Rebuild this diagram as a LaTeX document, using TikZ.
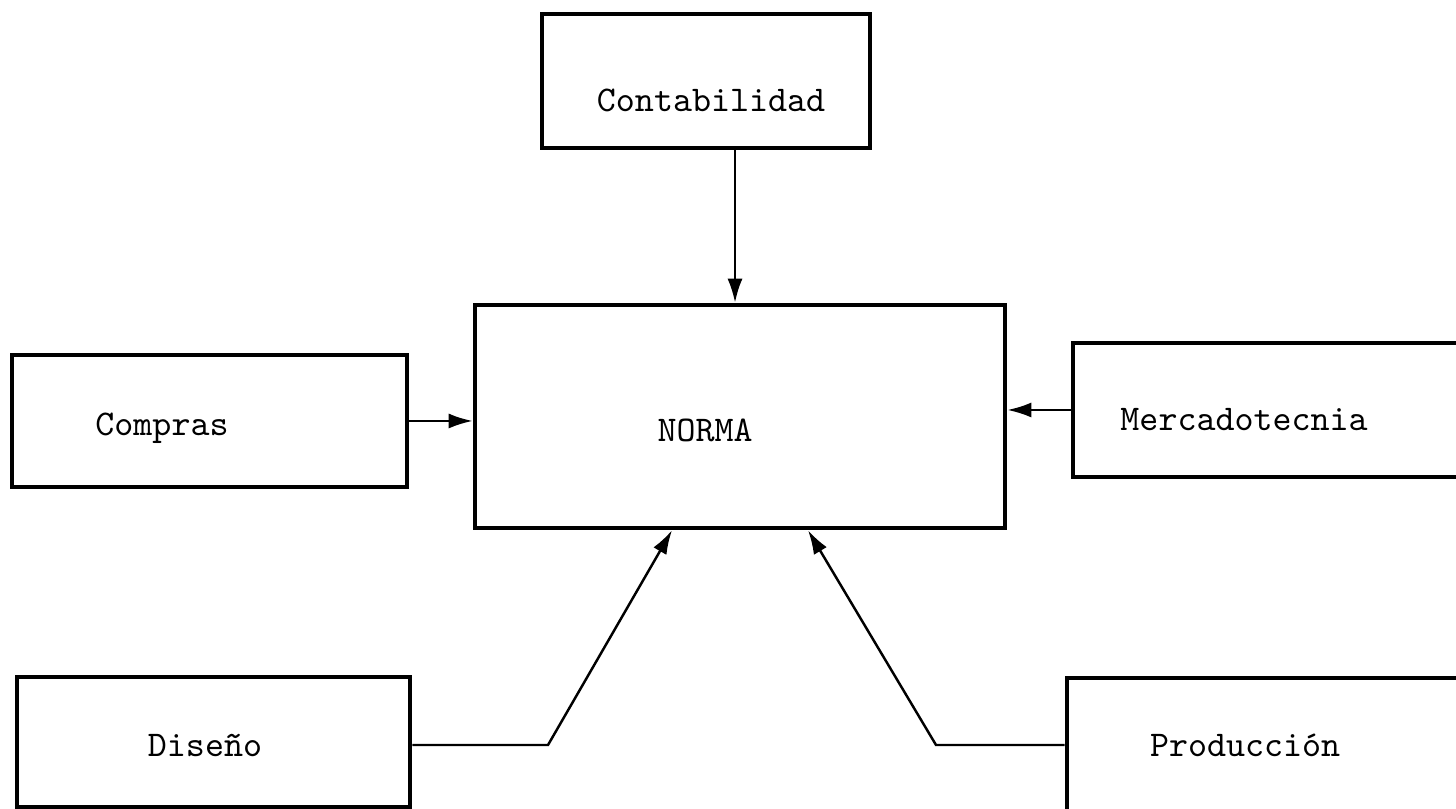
\documentclass[tikz,border=0pt]{standalone}
\usepackage{tikz}
\usetikzlibrary{arrows.meta,positioning}

\begin{document}
\begin{tikzpicture}[>={Latex[length=2.4mm,width=1.5mm]},
    font=\fontsize{10.3}{12}\selectfont\ttfamily,
    caja/.style={draw, line width=1.3pt, inner sep=0pt},
    flecha/.style={->, line width=0.7pt}]
  \useasboundingbox (0,0) rectangle (14.56,8.09);

  % cajas
  \node[caja, minimum width=3.28cm, minimum height=1.34cm] (cont) at (7.06,7.28) {};
  \node[caja, minimum width=5.30cm, minimum height=2.23cm] (norma) at (7.40,3.925) {};
  \node[caja, minimum width=3.95cm, minimum height=1.32cm] (compras) at (2.095,3.88) {};
  \node[caja, minimum width=4.07cm, minimum height=1.34cm] (merca) at (12.765,3.99) {};
  \node[caja, minimum width=3.93cm, minimum height=1.30cm] (diseno) at (2.135,0.67) {};
  \node[caja, minimum width=4.13cm, minimum height=1.34cm] (produ) at (12.735,0.64) {};

  % textos
  \node (cont-t) at (7.11,7.09) {Contabilidad};
  \node (norma-t) at (7.05,3.79) {NORMA};
  \node (compras-t) at (1.62,3.81) {Compras};
  \node (merca-t) at (12.44,3.89) {Mercadotecnia};
  \node (diseno-t) at (2.05,0.64) {Diseño};
  \node (produ-t) at (12.45,0.64) {Producción};

  % puntos de quiebre
  \coordinate (cx) at (7.35,0);
  \coordinate (dbend) at (5.48,0.64);
  \coordinate (dtip) at (6.72,0);
  \coordinate (pbend) at (9.36,0.64);
  \coordinate (ptip) at (8.08,0);

  \draw[flecha] (cont.south -| cx) -- (norma.north -| cx);
  \draw[flecha] (compras.east) -- (compras.east -| norma.west);
  \draw[flecha] (merca.west) -- (merca.west -| norma.east);
  \draw[flecha] (diseno.east |- dbend) -- (dbend) -- (norma.south -| dtip);
  \draw[flecha] (produ.west |- pbend) -- (pbend) -- (norma.south -| ptip);
\end{tikzpicture}
\end{document}
